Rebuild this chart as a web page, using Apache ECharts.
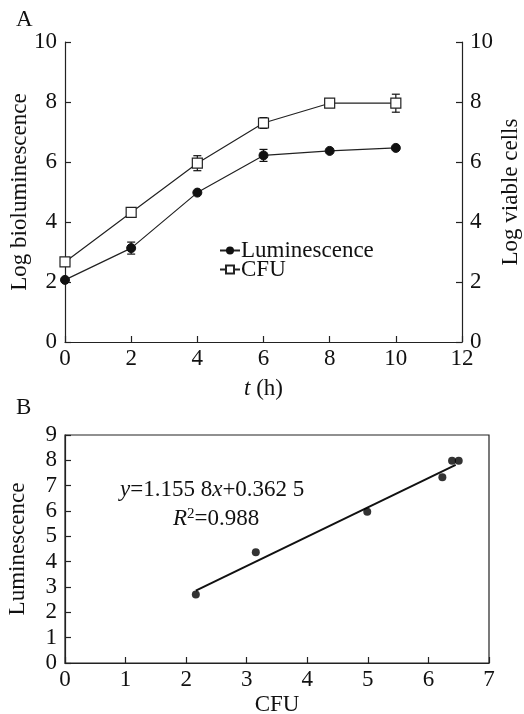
<!DOCTYPE html>
<html>
<head>
<meta charset="utf-8">
<script src="https://cdn.jsdelivr.net/npm/echarts@6/dist/echarts.min.js"></script>
<style>
  html, body { margin: 0; padding: 0; background: #fff; }
  #chart { width: 524px; height: 714px; }
</style>
</head>
<body>
<div id="chart"></div>
<script>
// panel A: time course
const hours = [0, 2, 4, 6, 8, 10];
const lumValues = [2.07, 3.13, 4.98, 6.22, 6.37, 6.47];
const lumErr = [0, 0.2, 0, 0.2, 0, 0];
const cfuValues = [2.67, 4.32, 5.96, 7.3, 7.96, 7.96];
const cfuErr = [0, 0.05, 0.25, 0.18, 0, 0.3];
const timeTicks = [0, 2, 4, 6, 8, 10, 12];
const logTicks = [0, 2, 4, 6, 8, 10];

// panel B: correlation
const corrX = [2.16, 3.15, 4.99, 6.23, 6.39, 6.5];
const corrY = [2.7, 4.37, 5.97, 7.33, 7.98, 7.98];
const slope = 1.1558;
const intercept = 0.3625;
const fitRange = [2.16, 6.45];

const FONT = "Liberation Serif";
const FS = 23;
const chart = echarts.init(document.getElementById("chart"));

const pairs = (xs, ys) => xs.map((x, i) => [x, ys[i]]);

// error bars drawn through the axis scale
function errorSeries(name, vals, errs, yIndex) {
  return {
    type: "custom",
    name: name,
    xAxisIndex: 0,
    yAxisIndex: yIndex,
    z: 1,
    silent: true,
    data: hours.map((h, i) => [h, vals[i] - errs[i], vals[i] + errs[i]]).filter((d, i) => errs[i] > 0),
    renderItem: (params, api) => {
      const lo = api.coord([api.value(0), api.value(1)]);
      const hi = api.coord([api.value(0), api.value(2)]);
      const w = 4;
      const st = { stroke: "#111", lineWidth: 1.2 };
      return {
        type: "group",
        children: [
          { type: "line", shape: { x1: lo[0], y1: lo[1], x2: hi[0], y2: hi[1] }, style: st },
          { type: "line", shape: { x1: lo[0] - w, y1: lo[1], x2: lo[0] + w, y2: lo[1] }, style: st },
          { type: "line", shape: { x1: hi[0] - w, y1: hi[1], x2: hi[0] + w, y2: hi[1] }, style: st },
        ],
      };
    },
  };
}

const axisBase = {
  type: "value",
  nameMoveOverlap: false,
  axisLine: { show: true, lineStyle: { color: "#222", width: 1.2 } },
  axisTick: { show: true, inside: true, length: 6, lineStyle: { color: "#222", width: 1.2 } },
  splitLine: { show: false },
  axisLabel: { color: "#111", fontFamily: FONT, fontSize: FS },
  nameTextStyle: { color: "#111", fontFamily: FONT, fontSize: FS },
};

const option = {
  animation: false,
  backgroundColor: "#fff",
  graphic: [
    { type: "text", left: 16, top: 8, style: { text: "A", font: FS + "px " + FONT, fill: "#111" } },
    { type: "text", left: 16, top: 396, style: { text: "B", font: FS + "px " + FONT, fill: "#111" } },
    {
      type: "text", left: 120, top: 478,
      style: {
        text: "{i|y}=1.155 8{i|x}+0.362 5",
        font: FS + "px " + FONT, fill: "#111",
        rich: { i: { fontStyle: "italic", fontFamily: FONT, fontSize: FS } },
      },
    },
    {
      type: "text", left: 173, top: 507,
      style: {
        text: "{i|R}{s|2}=0.988",
        font: FS + "px " + FONT, fill: "#111",
        rich: {
          i: { fontStyle: "italic", fontFamily: FONT, fontSize: FS },
          s: { fontFamily: FONT, fontSize: 15, verticalAlign: "top", padding: [0, 0, 7, 0] },
        },
      },
    },
  ],
  legend: {
    orient: "vertical",
    left: 214,
    top: 234,
    itemGap: -4,
    itemWidth: 20,
    itemHeight: 10,
    data: ["Luminescence", "CFU"],
    textStyle: { color: "#111", fontFamily: FONT, fontSize: FS, lineHeight: 19, padding: [0, 0, 0, -4] },
  },
  grid: [
    { left: 65, right: 62, top: 42, bottom: 372, outerBoundsMode: "none" },
    { left: 65, right: 35, top: 435, bottom: 51, outerBoundsMode: "none", show: true, borderColor: "#222", borderWidth: 1.2 },
  ],
  xAxis: [
    Object.assign({}, axisBase, {
      gridIndex: 0, min: timeTicks[0], max: timeTicks[timeTicks.length - 1], interval: 2,
      name: "{i|t} (h)", nameLocation: "middle", nameGap: 35,
      nameTextStyle: Object.assign({}, axisBase.nameTextStyle, {
        rich: { i: { fontStyle: "italic", fontFamily: FONT, fontSize: FS, color: "#111" } },
      }),
      axisLabel: Object.assign({}, axisBase.axisLabel, { margin: 5 }),
    }),
    Object.assign({}, axisBase, {
      gridIndex: 1, min: 0, max: 7, interval: 1,
      name: "CFU", nameLocation: "middle", nameGap: 30,
      axisLabel: Object.assign({}, axisBase.axisLabel, { margin: 5 }),
    }),
  ],
  yAxis: [
    Object.assign({}, axisBase, {
      gridIndex: 0, min: logTicks[0], max: logTicks[logTicks.length - 1], interval: 2,
      name: "Log bioluminescence", nameLocation: "middle", nameGap: 34,
      axisLabel: Object.assign({}, axisBase.axisLabel, { margin: 8 }),
    }),
    Object.assign({}, axisBase, {
      gridIndex: 0, position: "right", min: logTicks[0], max: logTicks[logTicks.length - 1], interval: 2,
      name: "Log viable cells", nameLocation: "middle", nameGap: 37,
      axisLabel: Object.assign({}, axisBase.axisLabel, { margin: 8 }),
    }),
    Object.assign({}, axisBase, {
      gridIndex: 1, min: 0, max: 9, interval: 1,
      name: "Luminescence", nameLocation: "middle", nameGap: 36,
      axisLabel: Object.assign({}, axisBase.axisLabel, { margin: 8 }),
    }),
  ],
  series: [
    errorSeries("lumErr", lumValues, lumErr, 0),
    errorSeries("cfuErr", cfuValues, cfuErr, 1),
    {
      name: "Luminescence",
      type: "line",
      xAxisIndex: 0, yAxisIndex: 0, z: 3,
      data: pairs(hours, lumValues),
      symbol: "circle", symbolSize: 9,
      itemStyle: { color: "#111", borderColor: "#111" },
      lineStyle: { color: "#222", width: 1.2 },
    },
    {
      name: "CFU",
      type: "line",
      xAxisIndex: 0, yAxisIndex: 1, z: 3,
      data: pairs(hours, cfuValues),
      symbol: "rect", symbolSize: 10,
      itemStyle: { color: "#fff", borderColor: "#222", borderWidth: 1.2 },
      lineStyle: { color: "#222", width: 1.2 },
    },
    {
      name: "fit",
      type: "line",
      xAxisIndex: 1, yAxisIndex: 2, z: 2,
      data: fitRange.map((x) => [x, slope * x + intercept]),
      symbol: "none",
      lineStyle: { color: "#111", width: 2 },
    },
    {
      name: "points",
      type: "scatter",
      xAxisIndex: 1, yAxisIndex: 2, z: 3,
      data: pairs(corrX, corrY),
      symbol: "circle", symbolSize: 8,
      itemStyle: { color: "#000" },
    },
  ],
};

chart.setOption(option);
</script>
</body>
</html>
